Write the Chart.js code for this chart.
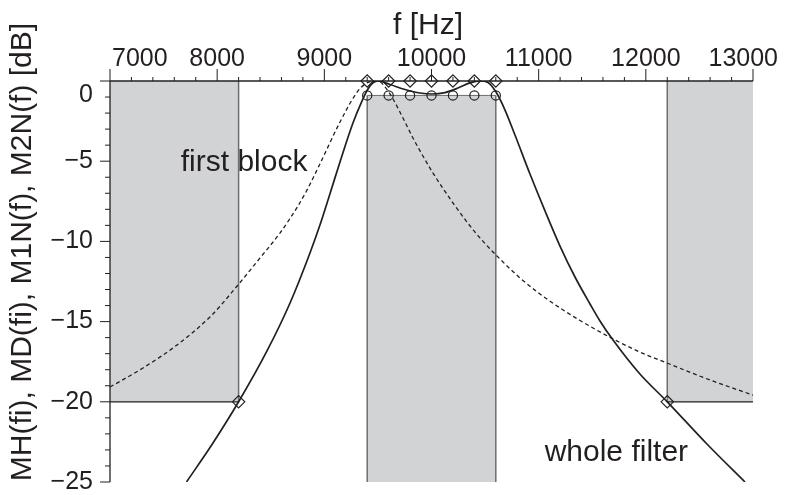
<!DOCTYPE html>
<html>
<head>
<meta charset="utf-8">
<script src="https://cdn.jsdelivr.net/npm/chart.js@4.4.1/dist/chart.umd.min.js"></script>
<style>
  html, body { margin: 0; padding: 0; background: #fff; }
  canvas { display: block; }
</style>
</head>
<body>
<canvas id="filterChart" width="786" height="495"></canvas>
<script>
// axes: frequency [Hz] on top, level [dB] on the left
const xTicks = [7000, 8000, 9000, 10000, 11000, 12000, 13000];
const yTicks = [0, -5, -10, -15, -20, -25];
const yTickLabels = ['0', '\u22125', '\u221210', '\u221215', '\u221220', '\u221225'];

// whole filter response (solid)
const wholeFreq = [7714, 7961, 8200, 8465, 8680, 8866, 8959, 9052, 9146, 9267, 9351, 9407, 9454, 9501,
  9613, 9753, 9893, 10005, 10126, 10247, 10359, 10453, 10527, 10602, 10686, 10779, 10919, 11059,
  11199, 11339, 11479, 11572, 11694, 11945, 12200, 12570, 12925];
const wholeDb = [-25.0, -22.57, -20.0, -16.83, -13.84, -10.72, -8.98, -7.04, -5.05, -2.62, -1.25, -0.5, -0.12, 0,
  -0.22, -0.53, -0.75, -0.81, -0.72, -0.44, -0.12, 0, -0.09, -0.69, -1.81, -3.37, -5.8, -8.1,
  -10.29, -12.22, -13.9, -14.96, -16.15, -18.27, -20.0, -22.63, -25.0];

// first block response (dashed)
const firstFreq = [7000, 7308, 7625, 7933, 8194, 8400, 8586, 8754, 8838, 8959, 9146, 9314, 9398, 9501,
  9575, 9641, 9743, 9827, 9893, 10014, 10201, 10331, 10453, 10611, 10826, 11012, 11199, 11386, 11694,
  11945, 12197, 12598, 13000];
const firstDb = [-19.08, -17.89, -16.46, -14.71, -12.72, -11.03, -9.48, -7.79, -6.8, -5.17, -2.56, -0.62, -0.12, 0,
  -0.44, -1.12, -2.43, -3.55, -4.36, -5.74, -7.61, -8.79, -9.79, -10.91, -12.28, -13.28, -14.15, -14.93, -16.08,
  -16.9, -17.58, -18.64, -19.58];

// template points
const diamondFreq = [9400, 9600, 9800, 10000, 10200, 10400, 10600, 8200, 12200];
const diamondDb = [0, 0, 0, 0, 0, 0, 0, -20, -20];
const circleFreq = [9400, 9600, 9800, 10000, 10200, 10400, 10600];
const circleDb = [-0.9, -0.9, -0.9, -0.9, -0.9, -0.9, -0.9];

// tolerance blocks (grey)
const blockFrom = [7000, 9400, 12200];
const blockTo = [8200, 10600, 13000];
const blockTop = [0, -0.9, 0];
const blockBottom = [-20, -25, -20];

// text notes
const noteText = ['first block', 'whole filter'];
const noteFreq = [7660, 11056];
const noteDb = [-5.1, -23.2];

const FONT = '"Liberation Sans", Arial, Helvetica, sans-serif';
const INK = '#231f20';

function pts(xs, ys) {
  return xs.map((v, i) => ({x: v, y: ys[i]}));
}

function line(ctx, x1, y1, x2, y2, color, width) {
  ctx.beginPath();
  ctx.strokeStyle = color;
  ctx.lineWidth = width;
  ctx.moveTo(x1, y1);
  ctx.lineTo(x2, y2);
  ctx.stroke();
}

const axesPlugin = {
  id: 'axesPlugin',
  beforeDatasetsDraw(chart) {
    const {ctx, chartArea: a, scales: {x, y}} = chart;
    ctx.save();
    for (let i = 0; i < blockFrom.length; i++) {
      const l = x.getPixelForValue(blockFrom[i]);
      const r = x.getPixelForValue(blockTo[i]);
      const t = y.getPixelForValue(blockTop[i]);
      const b = y.getPixelForValue(blockBottom[i]);
      ctx.fillStyle = '#d1d3d4';
      ctx.fillRect(l, t, r - l, b - t);
      // outline only the sides that are not on the plot border
      if (Math.abs(l - a.left) > 1) line(ctx, l, t, l, b, '#6d6e70', 1.5);
      if (Math.abs(r - a.right) > 1) line(ctx, r, t, r, b, '#6d6e70', 1.5);
      if (Math.abs(t - a.top) > 1) line(ctx, l, t, r, t, '#6d6e70', 1);
      if (Math.abs(b - a.bottom) > 1) line(ctx, l, b, r, b, INK, 1.2);
    }
    ctx.restore();
  },
  afterDraw(chart) {
    const {ctx, chartArea: a, scales: {x, y}} = chart;
    ctx.save();
    // axis lines
    line(ctx, a.left, a.top, a.right, a.top, INK, 1.3);
    line(ctx, a.left, a.top, a.left, a.bottom, INK, 1.3);

    // x ticks: minor every 200 Hz, major every 1000 Hz
    for (let f = 7000; f <= 13000; f += 200) {
      const px = x.getPixelForValue(f);
      const major = f % 1000 === 0;
      line(ctx, px, a.top, px, a.top - (major ? 12 : 4), INK, 1);
    }
    ctx.font = '25px ' + FONT;
    ctx.fillStyle = INK;
    ctx.textBaseline = 'alphabetic';
    ctx.textAlign = 'left';
    xTicks.forEach(f => {
      const txt = String(f);
      const w = ctx.measureText(txt).width;
      let left = x.getPixelForValue(f) - w / 2;
      left = Math.max(left, a.left + 2);
      left = Math.min(left, chart.width - 8 - w);
      ctx.fillText(txt, left, a.top - 15);
    });

    // y ticks: minor every 1 dB, major every 5 dB
    for (let d = 0; d >= -25; d--) {
      const py = y.getPixelForValue(d);
      const major = d % 5 === 0;
      line(ctx, a.left, py, a.left - (major ? 10 : 5), py, INK, 1);
    }
    ctx.textAlign = 'right';
    ctx.textBaseline = 'middle';
    yTicks.forEach((d, i) => {
      let py = y.getPixelForValue(d);
      py = Math.max(py, a.top + 14);
      ctx.fillText(yTickLabels[i], a.left - 17, py);
    });

    // axis titles
    ctx.font = '30px ' + FONT;
    ctx.textAlign = 'center';
    ctx.textBaseline = 'alphabetic';
    ctx.fillText('f [Hz]', 428, 34);
    ctx.save();
    ctx.translate(31, 252);
    ctx.rotate(-Math.PI / 2);
    ctx.fillText('MH(fi), MD(fi), M1N(f), M2N(f) [dB]', 0, 0);
    ctx.restore();

    // notes
    ctx.textAlign = 'left';
    ctx.textBaseline = 'middle';
    noteText.forEach((t, i) => {
      ctx.fillText(t, x.getPixelForValue(noteFreq[i]), y.getPixelForValue(noteDb[i]));
    });
    ctx.restore();
  }
};

new Chart(document.getElementById('filterChart'), {
  type: 'scatter',
  data: {
    datasets: [
      {
        data: pts(wholeFreq, wholeDb),
        showLine: true,
        borderColor: INK,
        borderWidth: 1.7,
        pointRadius: 0,
        cubicInterpolationMode: 'monotone',
      },
      {
        data: pts(firstFreq, firstDb),
        showLine: true,
        borderColor: INK,
        borderWidth: 1.3,
        borderDash: [4, 3],
        pointRadius: 0,
        cubicInterpolationMode: 'monotone',
      },
      {
        data: pts(circleFreq, circleDb),
        showLine: false,
        pointStyle: 'circle',
        pointRadius: 4.6,
        borderColor: INK,
        borderWidth: 1.2,
        backgroundColor: 'rgba(0,0,0,0)',
        clip: false,
      },
      {
        data: pts(diamondFreq, diamondDb),
        showLine: false,
        pointStyle: 'rectRot',
        pointRadius: 6.2,
        borderColor: INK,
        borderWidth: 1.2,
        backgroundColor: 'rgba(0,0,0,0)',
        clip: false,
      },
    ],
  },
  options: {
    responsive: false,
    animation: false,
    events: [],
    layout: {
      padding: {left: 110, top: 81, right: 33, bottom: 13},
    },
    scales: {
      x: {type: 'linear', min: 7000, max: 13000, display: false},
      y: {type: 'linear', min: -25, max: 0, display: false},
    },
    plugins: {
      legend: {display: false},
      tooltip: {enabled: false},
    },
  },
  plugins: [axesPlugin],
});
</script>
</body>
</html>
